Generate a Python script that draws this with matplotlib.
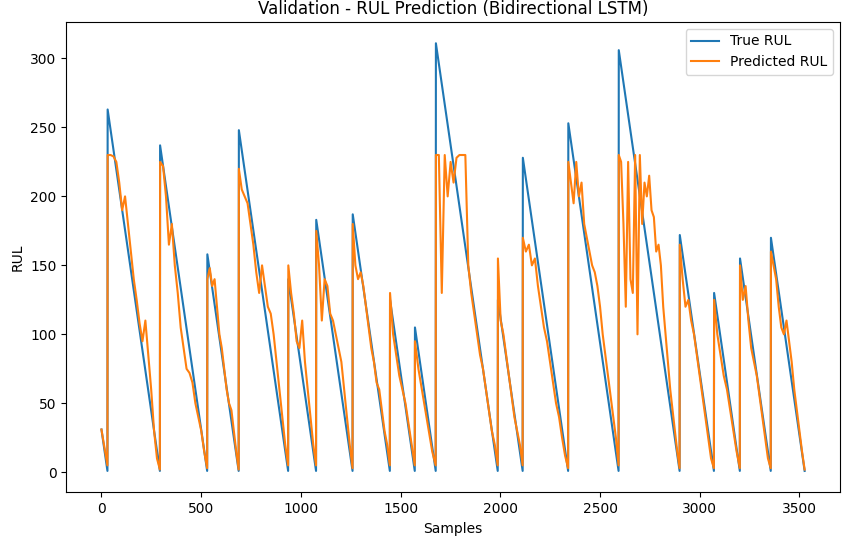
import numpy as np
import matplotlib.pyplot as plt

# starting RUL of each engine in the validation set (true RUL counts down to 1)
seg_starts = [31, 263, 237, 158, 248, 140, 183, 187, 125, 105, 311, 125,
              228, 253, 306, 172, 130, 155, 170]

# predicted RUL, spread evenly over each engine's samples
pred_segs = [
    [31, 18, 5],
    [230, 230, 229, 225, 210, 190, 200, 180, 160, 140, 125, 108, 95, 110, 85, 60, 30, 10, 2],
    [225, 222, 200, 165, 180, 150, 130, 105, 90, 75, 72, 65, 50, 40, 30, 15, 3],
    [140, 148, 135, 140, 120, 100, 90, 75, 60, 50, 45, 30, 15, 2],
    [220, 205, 200, 195, 180, 165, 145, 130, 150, 135, 120, 115, 100, 80, 60, 40, 20, 5],
    [150, 130, 115, 95, 90, 110, 80, 60, 40, 20, 5],
    [175, 150, 110, 140, 135, 115, 110, 100, 90, 80, 60, 40, 20, 3],
    [180, 150, 140, 145, 135, 120, 105, 90, 80, 65, 60, 45, 30, 20, 5],
    [130, 100, 85, 70, 60, 50, 35, 20, 5],
    [95, 75, 60, 45, 30, 15, 5],
    [230, 230, 130, 230, 200, 225, 210, 228, 230, 230, 230, 150, 130, 115, 100, 85, 75, 60, 45, 30, 20, 5],
    [155, 110, 100, 85, 70, 55, 40, 30, 20, 5],
    [170, 160, 165, 150, 155, 135, 120, 105, 95, 80, 65, 50, 40, 25, 12, 3],
    [225, 210, 195, 225, 200, 210, 180, 170, 160, 150, 145, 135, 120, 100, 85, 70, 55, 40, 25, 5],
    [230, 225, 180, 120, 225, 140, 130, 230, 100, 230, 180, 210, 200, 215, 190, 185, 160, 165,
     150, 120, 100, 80, 60, 45, 30, 15, 3],
    [165, 140, 120, 125, 110, 100, 85, 70, 55, 40, 25, 10, 3],
    [125, 100, 85, 70, 60, 45, 30, 15, 3],
    [150, 125, 135, 110, 90, 80, 70, 55, 40, 25, 10, 3],
    [160, 150, 140, 120, 105, 100, 110, 95, 80, 60, 45, 30, 15, 2],
]

true_rul = np.concatenate([np.arange(s, 0, -1) for s in seg_starts])

pred_x, pred_y = [], []
offset = 0
for s, vals in zip(seg_starts, pred_segs):
    pred_x.extend(np.linspace(offset, offset + s - 1, len(vals)))
    pred_y.extend(vals)
    offset += s

fig, ax = plt.subplots(figsize=(8.5, 5.47), dpi=100)
fig.subplots_adjust(left=0.078, right=0.988, top=0.96, bottom=0.10)
ax.plot(np.arange(len(true_rul)), true_rul, label='True RUL')
ax.plot(pred_x, pred_y, label='Predicted RUL')
ax.set_title('Validation - RUL Prediction (Bidirectional LSTM)')
ax.set_xlabel('Samples')
ax.set_ylabel('RUL')
ax.legend()
plt.savefig('out.png', dpi=100)
